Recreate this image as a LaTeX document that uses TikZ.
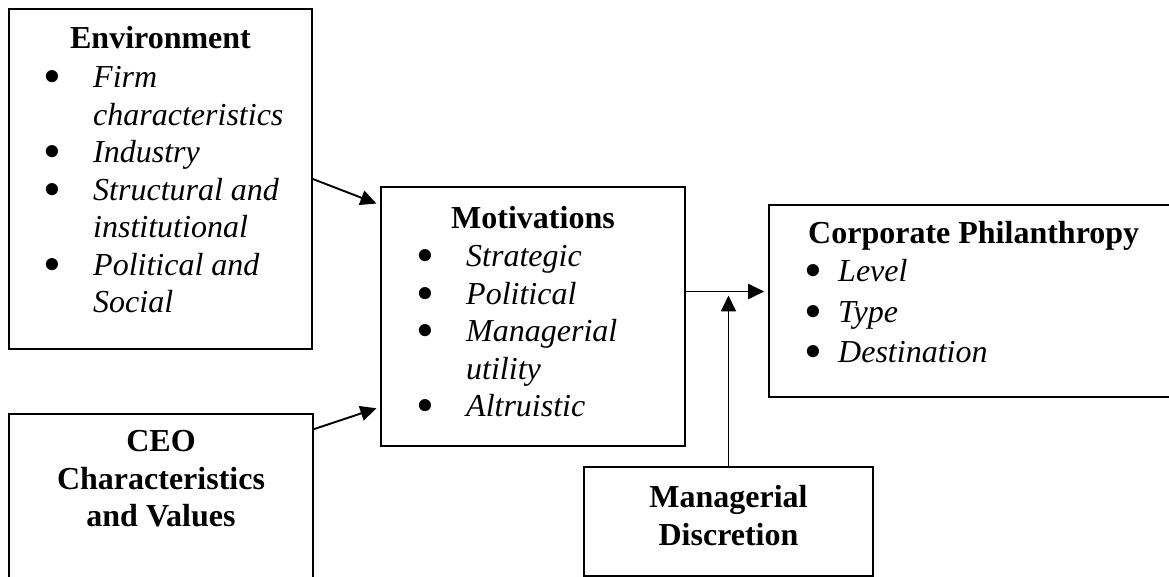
\documentclass[tikz,border=0pt]{standalone}
\usepackage{fontspec}
\setmainfont{Liberation Serif}
\usetikzlibrary{arrows.meta}

% big round bullet, optional width of the bullet column
\newcommand{\blt}[1][46.6pt]{\makebox[#1][l]{\hspace{-3pt}\smash{\raisebox{-6pt}{\fontsize{51}{51}\selectfont\upshape\textbullet}}}}

\tikzset{
	box/.style={draw, line width=1.6pt, inner sep=0pt},
	title/.style={font=\fontsize{32}{37.5}\selectfont\bfseries, inner sep=0pt, anchor=base},
	list/.style={font=\fontsize{32}{37.5}\selectfont\itshape, inner sep=0pt, anchor=base west},
	arr/.style={line width=1.9pt, -{Triangle[length=16pt,width=15pt]}, shorten >=4pt}
}

\begin{document}
\begin{tikzpicture}[x=1pt,y=1pt]
	\useasboundingbox (0,0) rectangle (1169,577);

	% boxes
	\node[box, minimum width=303pt, minimum height=340pt] (env)  at (160.5,398) {};	%top left
	\node[box, minimum width=304pt, minimum height=186pt] (ceo)  at (161,70)    {};	%bottom left
	\node[box, minimum width=304pt, minimum height=259pt] (mot)  at (533,260.5) {};	%middle
	\node[box, minimum width=411pt, minimum height=192pt] (corp) at (974.5,276) {};	%right
	\node[box, minimum width=289pt, minimum height=109pt] (disc) at (728.5,55.5) {};	%bottom

	% texts
	\node[title] (envtitle) at (160.5,528) {Environment};
	\node[list]  (envlist)  at (46.4,489) {\begin{tabular}[t]{@{}l@{}l@{}}
		\blt & Firm\\
		     & characteristics\\
		\blt & Industry\\
		\blt & Structural and\\
		     & institutional\\
		\blt & Political and\\
		     & Social
	\end{tabular}};

	\node[title] (ceotext) at (161,125) {\begin{tabular}[t]{@{}c@{}}CEO\\Characteristics\\and Values\end{tabular}};

	\node[title] (mottitle) at (533,348) {Motivations};
	\node[list]  (motlist)  at (419.4,310) {\begin{tabular}[t]{@{}l@{}l@{}}
		\blt & Strategic\\
		\blt & Political\\
		\blt & Managerial\\
		     & utility\\
		\blt & Altruistic
	\end{tabular}};

	\node[title, anchor=base west] (corptitle) at (808,333) {Corporate Philanthropy};
	\node[list] (corplist) at (807.4,295) {\renewcommand{\arraystretch}{1.08}\begin{tabular}[t]{@{}l@{}l@{}}
		\blt[30.6pt] & Level\\
		\blt[30.6pt] & Type\\
		\blt[30.6pt] & Destination
	\end{tabular}};

	\node[title] (disctext) at (728.5,69) {\begin{tabular}[t]{@{}c@{}}Managerial\\Discretion\end{tabular}};

	% arrows
	\coordinate (meet) at (disc.north |- 0,285.5);
	\draw[arr] (env.east) -- ([yshift=111.5pt]mot.west);			%env--mot
	\draw[arr] ([yshift=-16pt]ceo.north east) -- ([yshift=-90.5pt]mot.west);	%ceo--mot
	\draw[arr] (mot.east |- meet) -- (corp.west |- meet);			%mot--corp
	\draw[arr] (disc.north) -- (meet);					%disc--line
\end{tikzpicture}
\end{document}
